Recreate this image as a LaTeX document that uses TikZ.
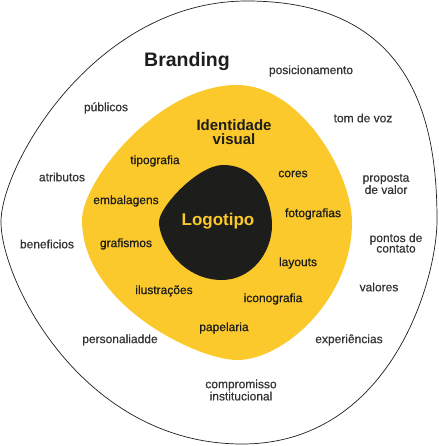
\documentclass[tikz,border=0pt]{standalone}
\usepackage{fontspec}
\setmainfont{Liberation Sans}[FakeBold=0.6]
\newfontfamily\boldf{Liberation Sans Bold}
\definecolor{brandyellow}{HTML}{FBC92B}
\definecolor{brandblack}{HTML}{1D1D1B}
\definecolor{labelgray}{HTML}{333333}
\begin{document}
\begin{tikzpicture}[x=1pt,y=-1pt,
  lbl/.style={font=\fontsize{12}{10.5}\selectfont, text=labelgray, align=center, inner sep=0pt},
  ilbl/.style={font=\fontsize{12}{10.5}\selectfont, text=brandblack, align=center, inner sep=0pt},
  ttl/.style={font=\boldf\fontsize{15}{14}\selectfont, text=brandblack, align=center, inner sep=0pt}]
\useasboundingbox (0,0) rectangle (438,446);
% outer blob
\draw[line width=0.7pt, brandblack]
  (247,1) .. controls (415,1) and (437,125) .. (437,220)
  .. controls (437,281) and (390,444) .. (242,444)
  .. controls (83,444) and (1,281) .. (1,222)
  .. controls (1,165) and (95,1) .. cycle;
% yellow blob
\fill[brandyellow]
  (237,85) .. controls (300,85) and (352,173) .. (352,222)
  .. controls (352,299) and (284,360) .. (237,360)
  .. controls (198,360) and (82,305) .. (82,220)
  .. controls (82,181) and (158,85) .. cycle;
% black blob
\fill[brandblack]
  (223,165) .. controls (262,165) and (272,206) .. (272,225)
  .. controls (272,253) and (251,280) .. (222,280)
  .. controls (181,280) and (159,241) .. (159,222)
  .. controls (159,207) and (198,165) .. cycle;
% titles
\node[ttl, font=\boldf\fontsize{19.5}{20}\selectfont] (branding) at (187,62) {Branding};
\node[ttl] (identidade) at (234,132) {Identidade\\visual};
\node[ttl, font=\boldf\fontsize{17}{17}\selectfont, text=brandyellow] (logo) at (218,221) {Logotipo};
% outer labels
\node[lbl] (posic) at (311,71) {posicionamento};
\node[lbl] (publicos) at (106,108) {públicos};
\node[lbl] (tom) at (363,118) {tom de voz};
\node[lbl] (atrib) at (62,177) {atributos};
\node[lbl] (proposta) at (386,184) {proposta\\de valor};
\node[lbl] (benef) at (47,244) {beneficios};
\node[lbl] (pontos) at (396,243) {pontos de\\contato};
\node[lbl] (valores) at (379,287) {valores};
\node[lbl] (person) at (120,340) {personaliadde};
\node[lbl] (exper) at (349,340) {experiências};
\node[lbl] (compr) at (241,390) {compromisso\\institucional};
% inner labels
\node[ilbl] (tipo) at (155,161) {tipografia};
\node[ilbl] (cores) at (293,174) {cores};
\node[ilbl] (embal) at (126,201) {embalagens};
\node[ilbl] (foto) at (313,214) {fotografias};
\node[ilbl] (graf) at (126,244) {grafismos};
\node[ilbl] (layouts) at (298,263) {layouts};
\node[ilbl] (ilus) at (164,291) {ilustrações};
\node[ilbl] (icono) at (273,299) {iconografia};
\node[ilbl] (papel) at (224,328) {papelaria};
\end{tikzpicture}
\end{document}
